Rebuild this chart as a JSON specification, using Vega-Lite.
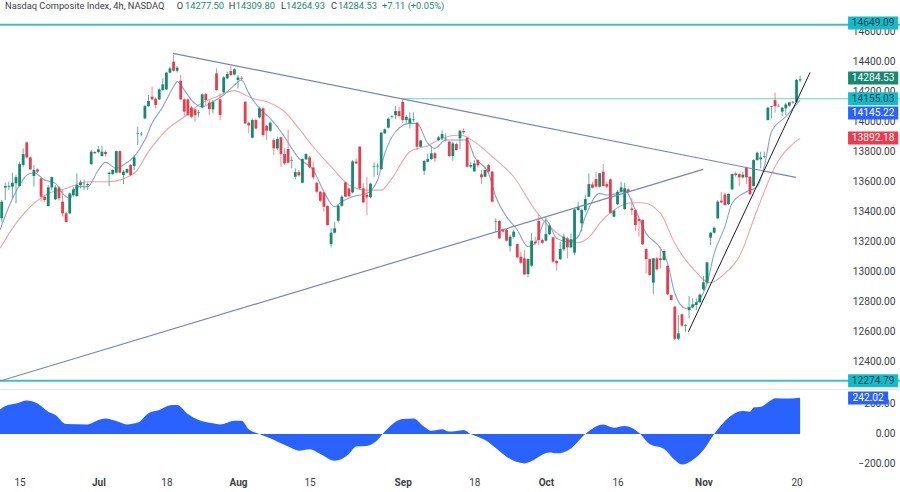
{"$schema":"https://vega.github.io/schema/vega-lite/v6.json","padding":0,"spacing":0,"background":"white","config":{"view":{"stroke":null},"concat":{"spacing":0},"font":"Roboto"},
"datasets":{
"candles":[
{"b":0,"o":13358,"h":13480,"l":13335,"c":13469},{"b":1,"o":13564,"h":13595,"l":13480,"c":13573},{"b":2,"o":13569,"h":13602,"l":13546,"c":13573},{"b":3,"o":13569,"h":13662,"l":13491,"c":13595},{"b":4,"o":13591,"h":13646,"l":13458,"c":13631},{"b":5,"o":13573,"h":13735,"l":13569,"c":13720},{"b":6,"o":13713,"h":13824,"l":13702,"c":13786},{"b":7,"o":13864,"h":13869,"l":13757,"c":13764},{"b":8,"o":13764,"h":13769,"l":13680,"c":13684},{"b":9,"o":13640,"h":13713,"l":13569,"c":13680},{"b":10,"o":13684,"h":13691,"l":13658,"c":13669},{"b":11,"o":13624,"h":13635,"l":13469,"c":13502},{"b":12,"o":13502,"h":13510,"l":13465,"c":13480},{"b":13,"o":13440,"h":13580,"l":13435,"c":13564},{"b":14,"o":13564,"h":13635,"l":13546,"c":13633},{"b":15,"o":13484,"h":13580,"l":13480,"c":13564},{"b":16,"o":13564,"h":13573,"l":13480,"c":13491},{"b":17,"o":13469,"h":13546,"l":13369,"c":13391},{"b":18,"o":13391,"h":13402,"l":13329,"c":13333},{"b":19,"o":13391,"h":13529,"l":13386,"c":13524},{"b":20,"o":13513,"h":13569,"l":13502,"c":13551},{"b":21,"o":13506,"h":13658,"l":13502,"c":13580},{"b":22,"o":13580,"h":13613,"l":13558,"c":13598},{"b":23,"o":13586,"h":13618,"l":13546,"c":13588},{"b":24,"o":13580,"h":13595,"l":13546,"c":13586},{"b":25,"o":13720,"h":13813,"l":13713,"c":13802},{"b":26,"o":13800,"h":13806,"l":13786,"c":13791},{"b":27,"o":13800,"h":13840,"l":13791,"c":13817},{"b":28,"o":13773,"h":13842,"l":13769,"c":13802},{"b":29,"o":13800,"h":13813,"l":13769,"c":13786},{"b":30,"o":13653,"h":13669,"l":13573,"c":13662},{"b":31,"o":13653,"h":13684,"l":13646,"c":13680},{"b":32,"o":13662,"h":13810,"l":13658,"c":13806},{"b":33,"o":13806,"h":13810,"l":13658,"c":13662},{"b":34,"o":13646,"h":13680,"l":13586,"c":13669},{"b":35,"o":13662,"h":13691,"l":13658,"c":13686},{"b":36,"o":13713,"h":13720,"l":13640,"c":13646},{"b":37,"o":13706,"h":13780,"l":13680,"c":13764},{"b":38,"o":13922,"h":13969,"l":13846,"c":13926},{"b":39,"o":13918,"h":13935,"l":13906,"c":13922},{"b":40,"o":14024,"h":14113,"l":14018,"c":14106},{"b":41,"o":14106,"h":14180,"l":14102,"c":14140},{"b":42,"o":14169,"h":14235,"l":14146,"c":14151},{"b":43,"o":14155,"h":14164,"l":14091,"c":14113},{"b":44,"o":14151,"h":14224,"l":14146,"c":14217},{"b":45,"o":14213,"h":14291,"l":14209,"c":14251},{"b":46,"o":14217,"h":14335,"l":14213,"c":14329},{"b":47,"o":14329,"h":14369,"l":14324,"c":14357},{"b":48,"o":14402,"h":14446,"l":14335,"c":14342},{"b":49,"o":14342,"h":14373,"l":14329,"c":14362},
{"b":50,"o":14275,"h":14313,"l":14146,"c":14151},{"b":51,"o":14151,"h":14158,"l":14035,"c":14069},{"b":52,"o":14151,"h":14158,"l":14040,"c":14046},{"b":53,"o":14097,"h":14106,"l":14024,"c":14035},{"b":54,"o":14084,"h":14091,"l":14002,"c":14046},{"b":55,"o":14060,"h":14080,"l":14031,"c":14064},{"b":56,"o":14097,"h":14191,"l":14091,"c":14184},{"b":57,"o":14186,"h":14195,"l":14113,"c":14146},{"b":58,"o":14129,"h":14146,"l":14046,"c":14086},{"b":59,"o":14084,"h":14146,"l":14057,"c":14133},{"b":60,"o":14324,"h":14357,"l":14209,"c":14213},{"b":61,"o":14151,"h":14191,"l":14013,"c":14046},{"b":62,"o":14198,"h":14306,"l":14191,"c":14297},{"b":63,"o":14291,"h":14335,"l":14284,"c":14320},{"b":64,"o":14340,"h":14373,"l":14306,"c":14313},{"b":65,"o":14317,"h":14357,"l":14311,"c":14351},{"b":66,"o":14280,"h":14313,"l":14224,"c":14297},{"b":67,"o":14295,"h":14306,"l":14280,"c":14289},{"b":68,"o":14135,"h":14140,"l":13986,"c":13991},{"b":69,"o":13995,"h":14002,"l":13924,"c":13977},{"b":70,"o":13895,"h":14024,"l":13891,"c":14013},{"b":71,"o":14013,"h":14024,"l":13951,"c":13957},{"b":72,"o":14031,"h":14102,"l":14024,"c":14091},{"b":73,"o":14091,"h":14102,"l":13902,"c":13913},{"b":74,"o":13973,"h":13980,"l":13880,"c":13942},{"b":75,"o":13942,"h":14002,"l":13935,"c":13995},{"b":76,"o":13880,"h":13891,"l":13780,"c":13824},{"b":77,"o":13824,"h":13902,"l":13813,"c":13886},{"b":78,"o":13898,"h":13902,"l":13702,"c":13786},{"b":79,"o":13786,"h":13824,"l":13713,"c":13724},{"b":80,"o":13820,"h":13951,"l":13724,"c":13729},{"b":81,"o":13740,"h":13769,"l":13691,"c":13744},{"b":82,"o":13635,"h":13691,"l":13618,"c":13666},{"b":83,"o":13666,"h":13680,"l":13635,"c":13644},
{"b":84,"o":13595,"h":13757,"l":13591,"c":13753},{"b":85,"o":13751,"h":13791,"l":13746,"c":13786},{"b":86,"o":13764,"h":13773,"l":13691,"c":13697},{"b":87,"o":13697,"h":13735,"l":13618,"c":13631},{"b":88,"o":13595,"h":13602,"l":13524,"c":13535},{"b":89,"o":13535,"h":13542,"l":13469,"c":13475},{"b":90,"o":13531,"h":13535,"l":13402,"c":13435},{"b":91,"o":13440,"h":13444,"l":13309,"c":13313},{"b":92,"o":13186,"h":13291,"l":13164,"c":13262},{"b":93,"o":13262,"h":13335,"l":13257,"c":13291},{"b":94,"o":13342,"h":13446,"l":13331,"c":13442},{"b":95,"o":13442,"h":13513,"l":13435,"c":13502},{"b":96,"o":13597,"h":13602,"l":13498,"c":13502},{"b":97,"o":13557,"h":13562,"l":13500,"c":13506},{"b":98,"o":13531,"h":13746,"l":13524,"c":13737},{"b":99,"o":13737,"h":13757,"l":13720,"c":13724},{"b":100,"o":13835,"h":13840,"l":13546,"c":13557},{"b":101,"o":13557,"h":13591,"l":13458,"c":13464},{"b":102,"o":13515,"h":13631,"l":13380,"c":13498},{"b":103,"o":13498,"h":13595,"l":13491,"c":13589},{"b":104,"o":13700,"h":13729,"l":13635,"c":13704},{"b":105,"o":13704,"h":13724,"l":13646,"c":13708},{"b":106,"o":13686,"h":13935,"l":13680,"c":13929},{"b":107,"o":13924,"h":13957,"l":13920,"c":13951},{"b":108,"o":13962,"h":14031,"l":13957,"c":14022},{"b":109,"o":14034,"h":14046,"l":14024,"c":14038},{"b":110,"o":14046,"h":14106,"l":14018,"c":14073},{"b":111,"o":14073,"h":14102,"l":14031,"c":14040},{"b":112,"o":14135,"h":14155,"l":13991,"c":14013},{"b":113,"o":14013,"h":14046,"l":13991,"c":14035},{"b":114,"o":13991,"h":14064,"l":13957,"c":14024},{"b":115,"o":14013,"h":14064,"l":14002,"c":14017},{"b":116,"o":13995,"h":14002,"l":13813,"c":13835},{"b":117,"o":13835,"h":13880,"l":13831,"c":13877},{"b":118,"o":13675,"h":13746,"l":13646,"c":13740},{"b":119,"o":13735,"h":13786,"l":13731,"c":13753},{"b":120,"o":13753,"h":13840,"l":13746,"c":13791},{"b":121,"o":13791,"h":13802,"l":13735,"c":13757},{"b":122,"o":13880,"h":13906,"l":13875,"c":13897},{"b":123,"o":13891,"h":13942,"l":13880,"c":13920},{"b":124,"o":13885,"h":13924,"l":13869,"c":13889},{"b":125,"o":13869,"h":13873,"l":13764,"c":13773},{"b":126,"o":13773,"h":13869,"l":13742,"c":13857},{"b":127,"o":13853,"h":13862,"l":13809,"c":13813},{"b":128,"o":13891,"h":13946,"l":13817,"c":13942},{"b":129,"o":13940,"h":13957,"l":13920,"c":13931},{"b":130,"o":13895,"h":13902,"l":13697,"c":13702},{"b":131,"o":13702,"h":13735,"l":13691,"c":13713},{"b":132,"o":13671,"h":13746,"l":13669,"c":13724},{"b":133,"o":13746,"h":13751,"l":13697,"c":13711},{"b":134,"o":13651,"h":13680,"l":13586,"c":13631},{"b":135,"o":13635,"h":13702,"l":13631,"c":13680},{"b":136,"o":13713,"h":13720,"l":13657,"c":13669},{"b":137,"o":13669,"h":13675,"l":13462,"c":13469},{"b":138,"o":13333,"h":13358,"l":13269,"c":13337},{"b":139,"o":13340,"h":13346,"l":13220,"c":13224},{"b":140,"o":13284,"h":13291,"l":13262,"c":13269},{"b":141,"o":13280,"h":13291,"l":13202,"c":13209},{"b":142,"o":13173,"h":13246,"l":13135,"c":13235},{"b":143,"o":13235,"h":13280,"l":13224,"c":13269},{"b":144,"o":13186,"h":13191,"l":13091,"c":13098},{"b":145,"o":13102,"h":13135,"l":13053,"c":13062},{"b":146,"o":13091,"h":13146,"l":12980,"c":12984},{"b":147,"o":12986,"h":13091,"l":12964,"c":13086},{"b":148,"o":13042,"h":13262,"l":13035,"c":13209},{"b":149,"o":13202,"h":13235,"l":13180,"c":13191},{"b":150,"o":13340,"h":13380,"l":13180,"c":13213},{"b":151,"o":13213,"h":13224,"l":13186,"c":13195},{"b":152,"o":13209,"h":13369,"l":13202,"c":13253},{"b":153,"o":13253,"h":13324,"l":13246,"c":13309},{"b":154,"o":13231,"h":13235,"l":13064,"c":13069},{"b":155,"o":13073,"h":13080,"l":13009,"c":13058},{"b":156,"o":13086,"h":13202,"l":13080,"c":13153},{"b":157,"o":13151,"h":13257,"l":13142,"c":13235},{"b":158,"o":13224,"h":13235,"l":13091,"c":13164},{"b":159,"o":13164,"h":13257,"l":13158,"c":13218},{"b":160,"o":13129,"h":13424,"l":13113,"c":13417},{"b":161,"o":13413,"h":13469,"l":13409,"c":13435},{"b":162,"o":13324,"h":13424,"l":13269,"c":13413},{"b":163,"o":13413,"h":13513,"l":13402,"c":13486},{"b":164,"o":13502,"h":13657,"l":13498,"c":13586},{"b":165,"o":13584,"h":13602,"l":13557,"c":13562},{"b":166,"o":13620,"h":13669,"l":13564,"c":13569},{"b":167,"o":13569,"h":13662,"l":13564,"c":13658},
{"b":168,"o":13669,"h":13720,"l":13569,"c":13573},{"b":169,"o":13586,"h":13600,"l":13560,"c":13569},{"b":170,"o":13618,"h":13624,"l":13391,"c":13395},{"b":171,"o":13369,"h":13413,"l":13364,"c":13409},{"b":172,"o":13453,"h":13546,"l":13446,"c":13535},{"b":173,"o":13535,"h":13602,"l":13529,"c":13564},{"b":174,"o":13420,"h":13595,"l":13413,"c":13558},{"b":175,"o":13551,"h":13558,"l":13524,"c":13535},{"b":176,"o":13424,"h":13491,"l":13380,"c":13413},{"b":177,"o":13413,"h":13418,"l":13275,"c":13313},{"b":178,"o":13353,"h":13358,"l":13235,"c":13340},{"b":179,"o":13346,"h":13351,"l":13180,"c":13184},{"b":180,"o":13153,"h":13158,"l":12991,"c":13086},{"b":181,"o":13086,"h":13091,"l":12973,"c":12980},{"b":182,"o":12929,"h":13095,"l":12853,"c":13091},{"b":183,"o":13091,"h":13102,"l":13009,"c":13018},{"b":184,"o":13091,"h":13164,"l":13024,"c":13080},{"b":185,"o":13080,"h":13151,"l":13075,"c":13140},{"b":186,"o":13040,"h":13046,"l":12846,"c":12851},{"b":187,"o":12846,"h":12851,"l":12809,"c":12813},{"b":188,"o":12769,"h":12773,"l":12546,"c":12555},{"b":189,"o":12555,"h":12713,"l":12546,"c":12591},{"b":190,"o":12718,"h":12724,"l":12635,"c":12642},{"b":191,"o":12640,"h":12653,"l":12602,"c":12644},{"b":192,"o":12746,"h":12840,"l":12691,"c":12764},{"b":193,"o":12764,"h":12824,"l":12758,"c":12784},{"b":194,"o":12780,"h":12824,"l":12746,"c":12798},{"b":195,"o":12798,"h":12858,"l":12791,"c":12849},{"b":196,"o":12884,"h":12973,"l":12875,"c":12931},{"b":197,"o":12929,"h":13069,"l":12920,"c":13064},{"b":198,"o":13229,"h":13269,"l":13180,"c":13262},{"b":199,"o":13262,"h":13302,"l":13257,"c":13295},{"b":200,"o":13358,"h":13480,"l":13351,"c":13469},{"b":201,"o":13475,"h":13535,"l":13458,"c":13464},{"b":202,"o":13517,"h":13529,"l":13442,"c":13446},{"b":203,"o":13453,"h":13524,"l":13446,"c":13520},{"b":204,"o":13551,"h":13657,"l":13546,"c":13653},{"b":205,"o":13657,"h":13669,"l":13635,"c":13646},{"b":206,"o":13653,"h":13657,"l":13573,"c":13631},{"b":207,"o":13631,"h":13669,"l":13624,"c":13649},{"b":208,"o":13695,"h":13702,"l":13586,"c":13631},{"b":209,"o":13635,"h":13640,"l":13513,"c":13518},{"b":210,"o":13573,"h":13751,"l":13569,"c":13746},{"b":211,"o":13746,"h":13802,"l":13742,"c":13795},{"b":212,"o":13751,"h":13802,"l":13691,"c":13764},{"b":213,"o":13767,"h":13802,"l":13758,"c":13771},{"b":214,"o":14013,"h":14102,"l":14009,"c":14095},{"b":215,"o":14100,"h":14106,"l":14024,"c":14104},{"b":216,"o":14146,"h":14197,"l":14062,"c":14106},{"b":217,"o":14108,"h":14120,"l":14098,"c":14104},{"b":218,"o":14069,"h":14102,"l":14040,"c":14095},{"b":219,"o":14091,"h":14129,"l":14046,"c":14117},{"b":220,"o":14109,"h":14135,"l":14102,"c":14131},{"b":221,"o":14135,"h":14140,"l":14120,"c":14129},{"b":222,"o":14135,"h":14286,"l":14128,"c":14280},{"b":223,"o":14277.5,"h":14309.8,"l":14264.93,"c":14284.53}],
"fast":[{"b":-0.47,"v":13280},{"b":2,"v":13435},{"b":5,"v":13580},{"b":7,"v":13646},{"b":9,"v":13662},{"b":12,"v":13613},{"b":15,"v":13591},{"b":17,"v":13524},{"b":19,"v":13491},{"b":21,"v":13569},{"b":24,"v":13569},{"b":27,"v":13680},{"b":29,"v":13731},{"b":32,"v":13691},{"b":34,"v":13713},{"b":37,"v":13769},{"b":40,"v":13880},{"b":42,"v":13991},{"b":45,"v":14102},{"b":48,"v":14235},{"b":49,"v":14269},{"b":51,"v":14213},{"b":53,"v":14146},{"b":56,"v":14102},{"b":59,"v":14135},{"b":62,"v":14180},{"b":65,"v":14246},{"b":67,"v":14280},{"b":69,"v":14191},{"b":72,"v":14091},{"b":75,"v":14024},{"b":79,"v":13902},{"b":81,"v":13824},{"b":83,"v":13757},{"b":87,"v":13680},{"b":90,"v":13535},{"b":93,"v":13435},{"b":95,"v":13469},{"b":98,"v":13502},{"b":102,"v":13524},{"b":105,"v":13613},{"b":107,"v":13791},{"b":110,"v":13935},{"b":114,"v":13991},{"b":116,"v":13991},{"b":119,"v":13857},{"b":121,"v":13824},{"b":124,"v":13880},{"b":128,"v":13880},{"b":130,"v":13880},{"b":132,"v":13769},{"b":136,"v":13657},{"b":138,"v":13502},{"b":141,"v":13369},{"b":144,"v":13280},{"b":147,"v":13169},{"b":149,"v":13191},{"b":152,"v":13346},{"b":155,"v":13224},{"b":158,"v":13202},{"b":161,"v":13235},{"b":163,"v":13369},{"b":167,"v":13524},{"b":169,"v":13513},{"b":172,"v":13524},{"b":174,"v":13546},{"b":177,"v":13413},{"b":180,"v":13257},{"b":184,"v":13158},{"b":186,"v":13058},{"b":188,"v":12858},{"b":191,"v":12758},{"b":194,"v":12791},{"b":197,"v":12924},{"b":199,"v":13124},{"b":202,"v":13302},{"b":204,"v":13458},{"b":208,"v":13535},{"b":211,"v":13569},{"b":213,"v":13702},{"b":215,"v":13935},{"b":219,"v":14035},{"b":223,"v":14145.22}],
"slow":[{"b":-0.47,"v":13158},{"b":4,"v":13324},{"b":9,"v":13458},{"b":13,"v":13524},{"b":18,"v":13557},{"b":24,"v":13602},{"b":30,"v":13602},{"b":37,"v":13658},{"b":41,"v":13802},{"b":46,"v":13946},{"b":51,"v":14035},{"b":55,"v":14113},{"b":60,"v":14169},{"b":65,"v":14209},{"b":68,"v":14180},{"b":70,"v":14158},{"b":74,"v":14135},{"b":79,"v":14069},{"b":83,"v":13957},{"b":87,"v":13835},{"b":92,"v":13702},{"b":97,"v":13580},{"b":102,"v":13546},{"b":106,"v":13546},{"b":109,"v":13624},{"b":114,"v":13802},{"b":119,"v":13842},{"b":123,"v":13891},{"b":128,"v":13913},{"b":132,"v":13869},{"b":137,"v":13769},{"b":143,"v":13635},{"b":149,"v":13413},{"b":154,"v":13280},{"b":161,"v":13195},{"b":165,"v":13257},{"b":167,"v":13324},{"b":171,"v":13413},{"b":176,"v":13462},{"b":179,"v":13462},{"b":184,"v":13391},{"b":188,"v":13191},{"b":193,"v":13024},{"b":198,"v":12929},{"b":202,"v":12991},{"b":206,"v":13102},{"b":211,"v":13413},{"b":216,"v":13702},{"b":223,"v":13892.18}],
"osc":[{"b":-0.47,"v":164},{"b":1,"v":187},{"b":4,"v":204},{"b":7,"v":224},{"b":10,"v":204},{"b":13,"v":149},{"b":15,"v":127},{"b":18,"v":67},{"b":24,"v":64},{"b":27,"v":93},{"b":29,"v":104},{"b":32,"v":87},{"b":35,"v":64},{"b":38,"v":76},{"b":41,"v":138},{"b":44,"v":160},{"b":47,"v":191},{"b":49,"v":193},{"b":52,"v":133},{"b":55,"v":93},{"b":59,"v":71},{"b":61,"v":64},{"b":65,"v":89},{"b":67,"v":89},{"b":69,"v":31},{"b":72,"v":0},{"b":75,"v":-29},{"b":80,"v":-84},{"b":83,"v":-111},{"b":86,"v":-102},{"b":89,"v":-133},{"b":93,"v":-178},{"b":97,"v":-133},{"b":99,"v":-84},{"b":102,"v":-80},{"b":105,"v":-40},{"b":107,"v":16},{"b":110,"v":82},{"b":112,"v":100},{"b":115,"v":104},{"b":118,"v":49},{"b":120,"v":22},{"b":123,"v":31},{"b":125,"v":16},{"b":127,"v":20},{"b":129,"v":27},{"b":131,"v":0},{"b":135,"v":-40},{"b":139,"v":-113},{"b":141,"v":-151},{"b":146,"v":-196},{"b":153,"v":-124},{"b":155,"v":-129},{"b":159,"v":-96},{"b":163,"v":0},{"b":168,"v":64},{"b":171,"v":42},{"b":174,"v":53},{"b":178,"v":9},{"b":181,"v":-67},{"b":185,"v":-100},{"b":188,"v":-173},{"b":190,"v":-204},{"b":193,"v":-173},{"b":196,"v":-107},{"b":199,"v":0},{"b":204,"v":127},{"b":207,"v":153},{"b":209,"v":149},{"b":210,"v":176},{"b":212,"v":182},{"b":215,"v":227},{"b":216,"v":238},{"b":220,"v":236},{"b":223,"v":242.02}],
"trend":[{"name":"down","b":47.85,"v":14458},{"name":"down","b":221.8,"v":13631},{"name":"up","b":-0.47,"v":12273},{"name":"up","b":195.9,"v":13684}],
"support":[{"b":191.8,"v":12602},{"b":225.8,"v":14331}],
"shelf":[{"b":111.8,"v":14155.03},{"b":250.9,"v":14155.03}],
"levels":[{"v":14649.09},{"v":12274.79}],
"tags":[{"label":"14649.09","v":14660,"kind":"level"},{"label":"14284.53","v":14293,"kind":"last"},{"label":"14155.03","v":14155,"kind":"level"},{"label":"14145.22","v":14060,"kind":"fast"},{"label":"13892.18","v":13893,"kind":"slow"},{"label":"12274.79","v":12275,"kind":"level"}],
"osctag":[{"label":"242.02","v":240}],
"header":[{"t":"Nasdaq Composite Index, 4h, NASDAQ","b":0.92,"kind":"name"},{"t":"O","b":48.9,"kind":"name"},{"t":"14277.50","b":51.2,"kind":"val"},{"t":"H","b":63.4,"kind":"name"},{"t":"14309.80","b":65.4,"kind":"val"},{"t":"L","b":78,"kind":"name"},{"t":"14264.93","b":79.4,"kind":"val"},{"t":"C","b":92,"kind":"name"},{"t":"14284.53","b":93.9,"kind":"val"},{"t":"+7.11 (+0.05%)","b":106.2,"kind":"val"}]
},
"vconcat":[
{"width":900,"height":389,
"encoding":{"x":{"field":"b","type":"quantitative","scale":{"domain":[-0.475,250.9],"nice":false,"zero":false,"padding":0},"axis":{"title":null,"labels":false,"ticks":false,"grid":false,"domain":true,"domainColor":"#e3e5ea"}}},
"layer":[
{"data":{"name":"levels"},"mark":{"type":"rule","color":"#45bcc6","strokeWidth":2,"clip":true},"encoding":{"x":{"value":0},"x2":{"value":900},"y":{"field":"v","type":"quantitative","scale":{"domain":[12220,14813.3],"nice":false,"zero":false},"axis":{"title":null,"orient":"right","values":[12400,12600,12800,13000,13200,13400,13600,13800,14000,14200,14400,14600],"tickCount":12,"format":".2f","grid":false,"domain":false,"ticks":false,"labelAlign":"right","labelPadding":-5,"labelColor":"#3c4048","labelFontSize":10.2,"labelOverlap":false,"labelBound":false}}}},
{"data":{"name":"shelf"},"mark":{"type":"line","color":"#6fcfd6","strokeWidth":1,"clip":true},"encoding":{"y":{"field":"v","type":"quantitative"}}},
{"data":{"name":"slow"},"mark":{"type":"line","color":"#e9a5a8","strokeWidth":1.1,"interpolate":"monotone","clip":true},"encoding":{"y":{"field":"v","type":"quantitative"}}},
{"data":{"name":"fast"},"mark":{"type":"line","color":"#87a2d4","strokeWidth":1.1,"interpolate":"monotone","clip":true},"encoding":{"y":{"field":"v","type":"quantitative"}}},
{"data":{"name":"candles"},"mark":{"type":"rule","strokeWidth":0.9,"clip":true},"encoding":{"y":{"field":"l","type":"quantitative"},"y2":{"field":"h"},"color":{"condition":{"test":"datum.c>=datum.o","value":"#4fa592"},"value":"#e87f88"}}},
{"data":{"name":"candles"},"mark":{"type":"bar","size":2.8,"clip":true},"encoding":{"y":{"field":"o","type":"quantitative"},"y2":{"field":"c"},"color":{"condition":{"test":"datum.c>=datum.o","value":"#16896f"},"value":"#e63e4c"}}},
{"data":{"name":"trend"},"mark":{"type":"line","color":"#7486b8","strokeWidth":1.2,"clip":true},"encoding":{"detail":{"field":"name"},"y":{"field":"v","type":"quantitative"}}},
{"data":{"name":"support"},"mark":{"type":"line","color":"#1e1e24","strokeWidth":1,"clip":true},"encoding":{"y":{"field":"v","type":"quantitative"}}},
{"data":{"name":"tags"},"transform":[{"calculate":"236.4","as":"tx"},{"calculate":"250.4","as":"tx2"}],"mark":{"type":"rule","strokeWidth":13,"clip":true},"encoding":{"x":{"field":"tx","type":"quantitative"},"x2":{"field":"tx2"},"y":{"field":"v","type":"quantitative"},"color":{"field":"kind","type":"nominal","legend":null,"scale":{"domain":["level","last","fast","slow"],"range":["#14bccb","#16896f","#2962ff","#ee3a4c"]}}}},
{"data":{"name":"tags"},"transform":[{"calculate":"243.4","as":"tx"}],"mark":{"type":"text","fontSize":10.2,"align":"center","baseline":"middle"},"encoding":{"x":{"field":"tx","type":"quantitative"},"y":{"field":"v","type":"quantitative"},"text":{"field":"label"},"color":{"field":"kind","type":"nominal","legend":null,"scale":{"domain":["level","last","fast","slow"],"range":["#17464d","#ffffff","#ffffff","#ffffff"]}}}},
{"data":{"name":"header"},"transform":[{"calculate":"14773","as":"hy"}],"mark":{"type":"text","fontSize":9.3,"align":"left","baseline":"middle"},"encoding":{"y":{"field":"hy","type":"quantitative"},"text":{"field":"t"},"color":{"field":"kind","type":"nominal","legend":null,"scale":{"domain":["name","val"],"range":["#3c4048","#16896f"]}}}}
],
"resolve":{"scale":{"color":"independent"}}},
{"width":900,"height":103,
"encoding":{"x":{"field":"b","type":"quantitative","scale":{"domain":[-0.475,250.9],"nice":false,"zero":false,"padding":0},"axis":{"title":null,"values":[5,27,46,66,86,112,132,152,172,196,222],"labelExpr":"{'5':'15','27':'Jul','46':'18','66':'Aug','86':'15','112':'Sep','132':'18','152':'Oct','172':'16','196':'Nov','222':'20'}[datum.value]","labelFontWeight":{"condition":{"test":"indexof([27,66,112,152,196],datum.value)>=0","value":"bold"},"value":"normal"},"labelPadding":-15,"labelColor":"#3c4048","labelFontSize":10,"ticks":false,"grid":false,"domain":false,"labelFlush":false,"labelOverlap":false}}},
"layer":[
{"data":{"name":"osc"},"mark":{"type":"area","color":"#2962ff","opacity":1,"clip":true,"interpolate":"monotone"},"encoding":{"y":{"field":"v","type":"quantitative","scale":{"domain":[-386.7,300],"nice":false,"zero":false},"axis":{"title":null,"orient":"right","values":[-200,0,200],"format":".2f","grid":false,"domain":false,"ticks":false,"labelAlign":"right","labelPadding":-5,"labelColor":"#3c4048","labelFontSize":10.2,"labelOverlap":false}},"y2":{"datum":0}}},
{"data":{"name":"osctag"},"transform":[{"calculate":"236.4","as":"tx"},{"calculate":"247.6","as":"tx2"}],"mark":{"type":"rule","strokeWidth":13,"color":"#2962ff","clip":true},"encoding":{"x":{"field":"tx","type":"quantitative"},"x2":{"field":"tx2"},"y":{"field":"v","type":"quantitative"}}},
{"data":{"name":"osctag"},"transform":[{"calculate":"242","as":"tx"}],"mark":{"type":"text","fontSize":10.2,"color":"#ffffff","align":"center","baseline":"middle"},"encoding":{"x":{"field":"tx","type":"quantitative"},"y":{"field":"v","type":"quantitative"},"text":{"field":"label"}}}
]}
]}
